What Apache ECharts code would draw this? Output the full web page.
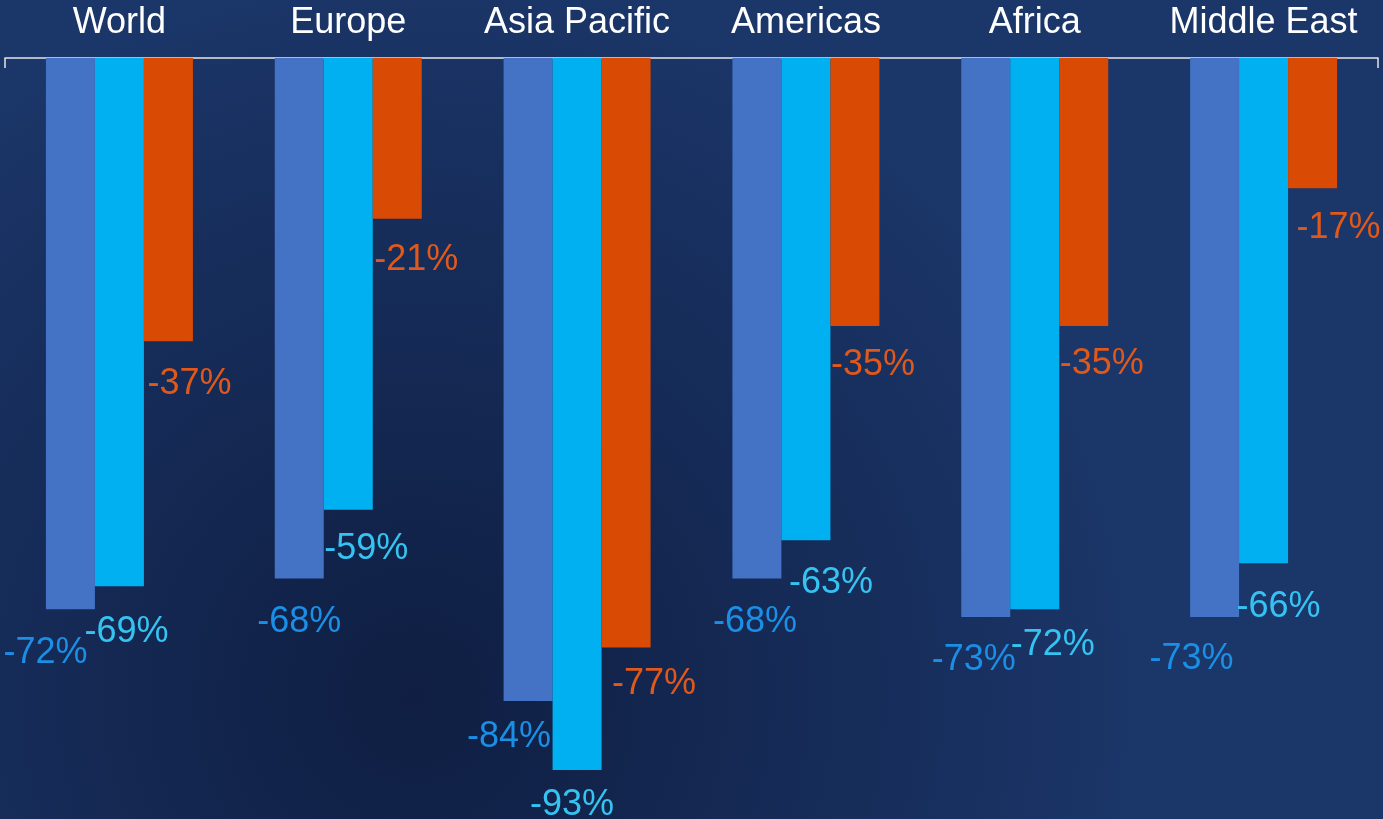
<!DOCTYPE html>
<html><head><meta charset="utf-8">
<script src="https://cdn.jsdelivr.net/npm/echarts@6/dist/echarts.min.js"></script>
<style>html,body{margin:0;padding:0;background:#142a58;}#c{width:1383px;height:819px;}</style>
</head><body><div id="c"></div>
<script>
const categories = ['World','Europe','Asia Pacific','Americas','Africa','Middle East'];
const seriesA = [-72,-68,-84,-68,-73,-73];
const seriesB = [-69,-59,-93,-63,-72,-66];
const seriesC = [-37,-21,-77,-35,-35,-17];

// label nudges (layout only)
const offA = [[-25,3],[0,2],[-19,-5],[-2,2],[-12,2],[-23,1]];
const offB = [[7,5],[18,-2],[-5,-6],[25,2],[18,-5],[15,3]];
const offC = [[21,2],[19,0],[28,-4],[18,-2],[18,-3],[26,-1]];

const FONT = '"Liberation Sans", Arial, sans-serif';
function mk(vals, offs, color, lblColor){
  return {
    type:'bar', barWidth:49, barGap:'0%',
    itemStyle:{color:color},
    label:{show:true, position:'bottom', distance:23, color:lblColor, fontSize:36, fontFamily:FONT,
      formatter:p=>p.value+'%'},
    data: vals.map((v,i)=>({value:v, label:{offset:offs[i]}}))
  };
}
const chart = echarts.init(document.getElementById('c'));
chart.setOption({
  backgroundColor:{type:'radial', x:0.3, y:0.85, r:0.9, colorStops:[{offset:0,color:'#0f1e42'},{offset:1,color:'#1b3669'}]},
  animation:false,
  grid:{left:5,right:5,top:58,bottom:49},
  xAxis:[{
    type:'category', position:'top', data:categories,
    axisLine:{lineStyle:{color:'#e6e6e6', width:1.5}},
    axisTick:{show:false},
    axisLabel:{color:'#ffffff', fontSize:36, fontFamily:FONT, margin:17, interval:0}
  },{
    type:'value', position:'top', min:0, max:1, interval:1,
    axisLine:{show:false}, splitLine:{show:false}, axisLabel:{show:false},
    axisTick:{show:true, inside:true, length:10, lineStyle:{color:'#e6e6e6', width:1.5}}
  }],
  yAxis:{type:'value', min:-93, max:0, show:false, splitLine:{show:false}},
  series:[
    mk(seriesA, offA, '#4472C4', '#1b8fe6'),
    mk(seriesB, offB, '#00B0F0', '#35c4f2'),
    mk(seriesC, offC, '#D94A04', '#e0581a')
  ]
});
</script></body></html>
